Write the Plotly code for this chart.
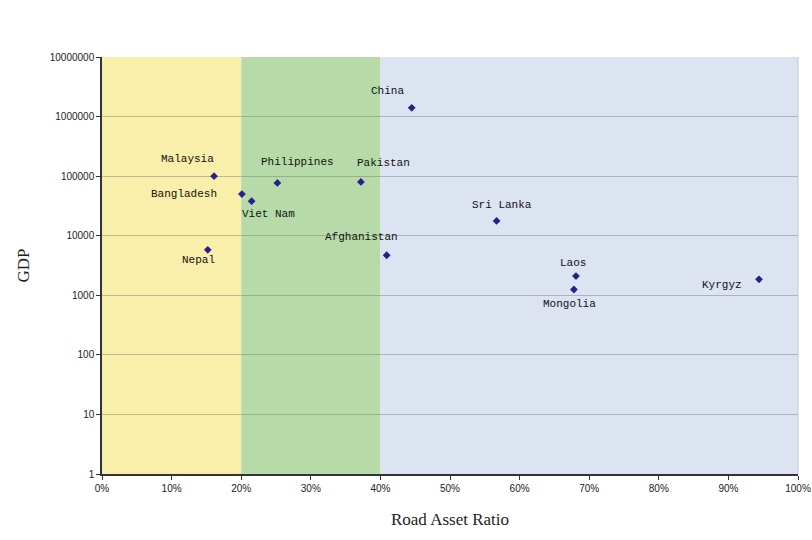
import math
import plotly.graph_objects as go

countries = ["Malaysia", "Bangladesh", "Viet Nam", "Philippines", "Nepal", "China",
             "Pakistan", "Sri Lanka", "Afghanistan", "Laos", "Mongolia", "Kyrgyz"]
road_asset_ratio = [0.161, 0.201, 0.215, 0.252, 0.152, 0.445,
                    0.372, 0.567, 0.409, 0.681, 0.678, 0.944]
gdp = [100000, 50000, 38000, 77000, 5800, 1400000,
       80000, 17700, 4700, 2100, 1250, 1850]
# label offsets in pixels (dx right, dy up)
label_dx = [-27, -58, 17, 20, -9, -24, 23, 5, -25, -3, -4, -37]
label_dy = [17, 0, -13, 21, -10, 17, 19, 16, 18, 13, -14, -6]

x_ticks = [0.0, 0.1, 0.2, 0.3, 0.4, 0.5, 0.6, 0.7, 0.8, 0.9, 1.0]
y_ticks = [1, 10, 100, 1000, 10000, 100000, 1000000, 10000000]
y_tick_text = ["1", "10", "100", "1000", "10000", "100000", "1000000", "10000000"]

bands = [(0.0, 0.2, "#f9eeaa"), (0.2, 0.4, "#b6dba8"), (0.4, 1.0, "#dce3f1")]

fig = go.Figure()
fig.add_trace(go.Scatter(
    x=road_asset_ratio, y=gdp, mode="markers",
    marker=dict(symbol="diamond", size=6, color="#2b1f8f"),
    hoverinfo="text", text=countries, showlegend=False,
))

shapes = []
for x0, x1, c in bands:
    shapes.append(dict(type="rect", xref="x", yref="paper", x0=x0, x1=x1, y0=0, y1=1,
                       fillcolor=c, line=dict(width=0), layer="below"))
shapes.append(dict(type="line", xref="paper", yref="paper", x0=1, x1=1, y0=0, y1=1,
                   line=dict(color="#c8c8c8", width=1)))

annotations = []
for name, xv, yv, dx, dy in zip(countries, road_asset_ratio, gdp, label_dx, label_dy):
    annotations.append(dict(x=xv, y=math.log10(yv), xref="x", yref="y",
                            text=name, showarrow=False, xshift=dx, yshift=dy,
                            font=dict(family="Liberation Mono, DejaVu Sans Mono, monospace",
                                      size=11, color="#111")))

tick_font = dict(family="Liberation Sans, Arial", size=10, color="#222")
title_font = dict(family="Liberation Serif, DejaVu Serif, serif", size=17, color="#222")

fig.update_layout(
    width=812, height=540,
    margin=dict(l=102, r=14, t=57, b=66),
    paper_bgcolor="white", plot_bgcolor="rgba(0,0,0,0)",
    shapes=shapes, annotations=annotations,
    xaxis=dict(range=[0, 1], tickvals=x_ticks, tickformat=".0%", automargin=False,
               showgrid=False, zeroline=False, showline=True, linecolor="#333", linewidth=1.5,
               ticks="outside", ticklen=4, tickcolor="#333", tickfont=tick_font,
               title=dict(text="Road Asset Ratio", standoff=20, font=title_font)),
    yaxis=dict(type="log", range=[0, 7], tickvals=y_ticks, ticktext=y_tick_text, automargin=False,
               showgrid=True, gridcolor="rgba(120,120,120,0.45)", gridwidth=1,
               zeroline=False, showline=True, linecolor="#333", linewidth=1.5,
               ticks="outside", ticklen=4, tickcolor="#333", tickfont=tick_font,
               title=dict(text="GDP", standoff=16, font=title_font)),
)

fig.write_html("out.html")
